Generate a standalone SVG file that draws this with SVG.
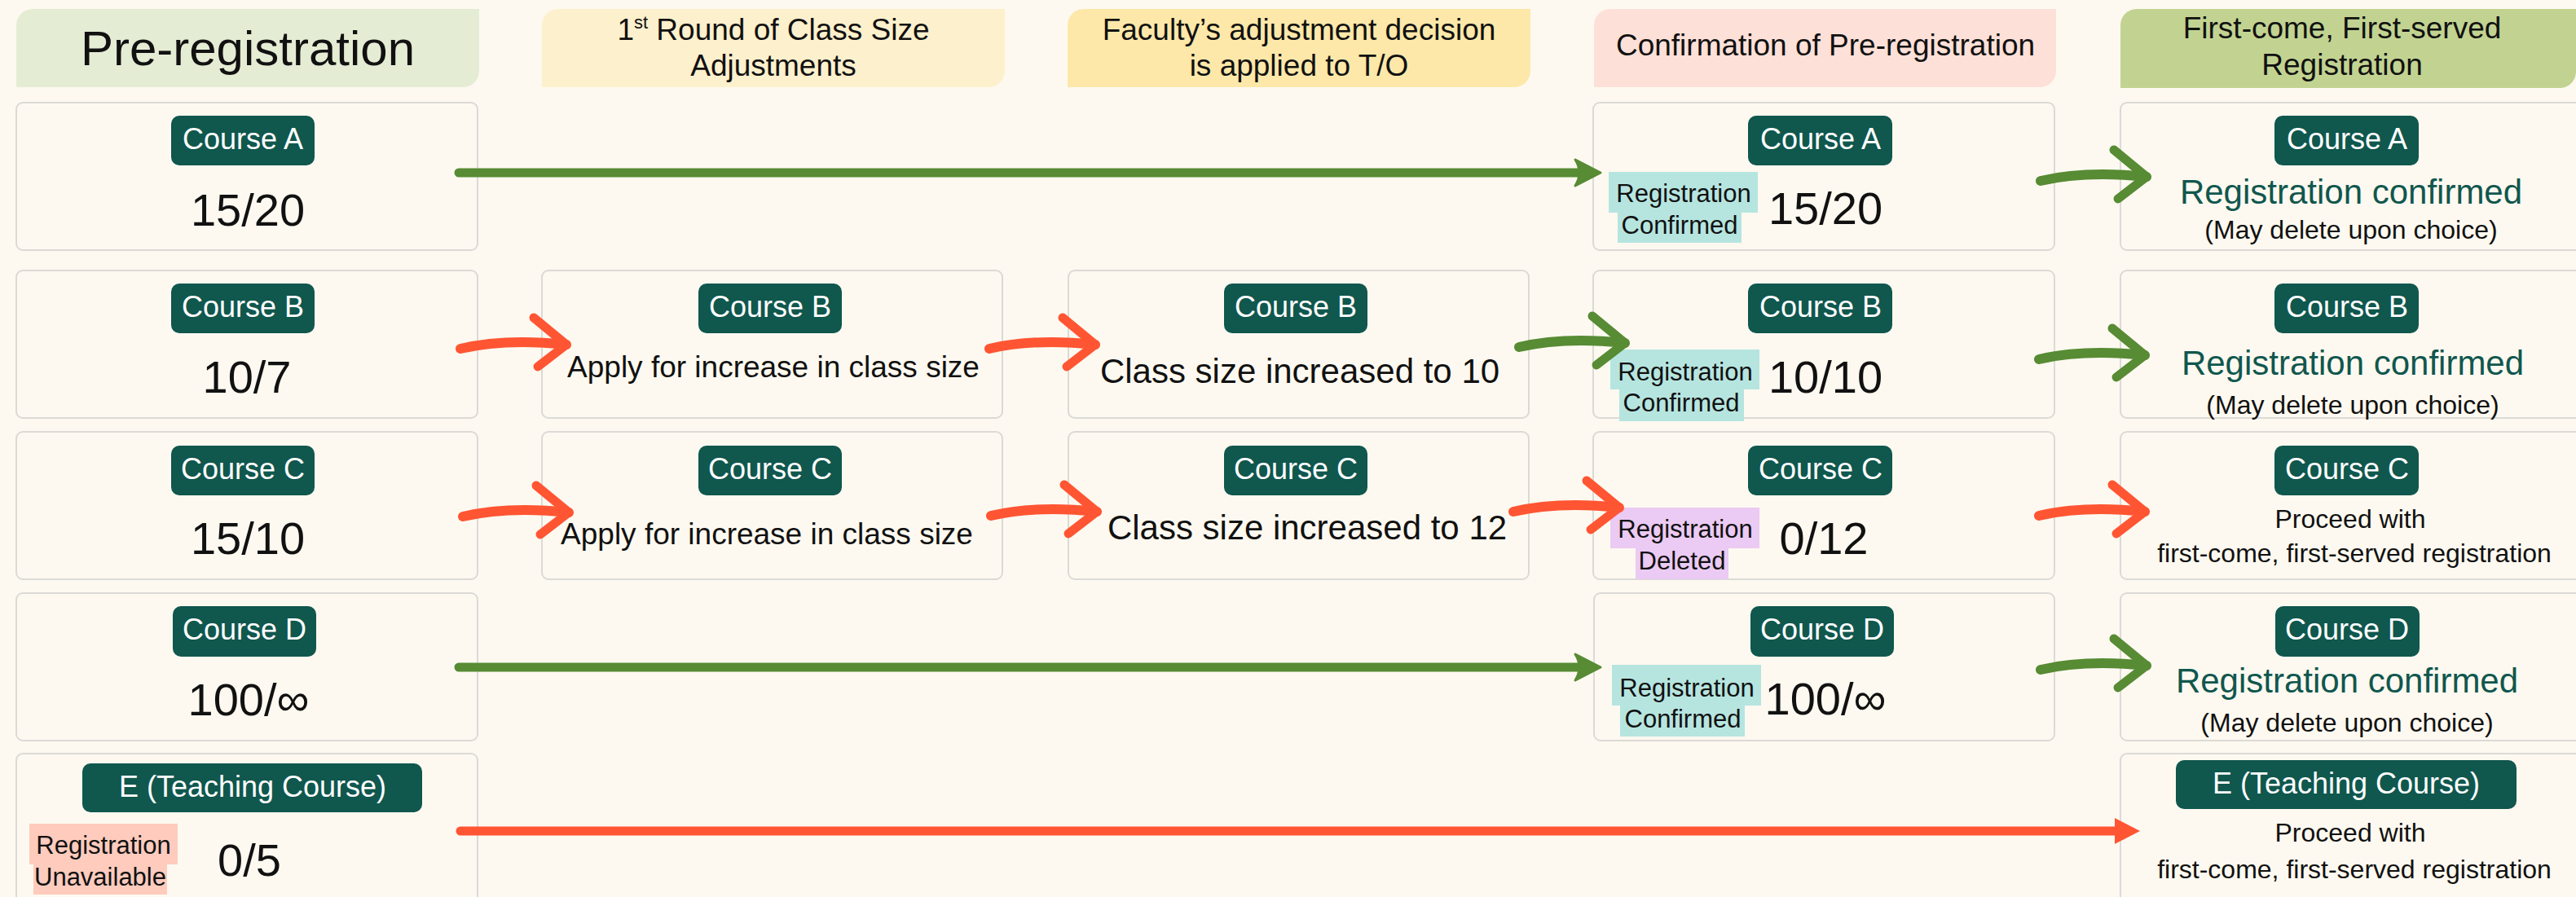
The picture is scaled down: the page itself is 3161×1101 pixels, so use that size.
<svg xmlns="http://www.w3.org/2000/svg" xmlns:xlink="http://www.w3.org/1999/xlink" width="3161" height="1101" viewBox="0 0 3161 1101">
<style>
text{font-family:"Liberation Sans",Arial,sans-serif;fill:#111;text-anchor:middle}
.box{fill:#fdf9f0;stroke:#dcdad6;stroke-width:2}
.pill{fill:#10574e}
.pt{font-size:36px;fill:#fff}
.hd{font-size:37px}
.hd1{font-size:60px}
.val{font-size:56px}
.mid{font-size:37px}
.big{font-size:42px}
.conf{font-size:42px;fill:#10574e}
.sm{font-size:32px}
.hl{font-size:31px}
.teal{fill:#b6e5e0}
.lav{fill:#ebcaf3}
.sal{fill:#fecbbd}
.shaft{fill:none;stroke-width:11;stroke-linecap:round}
</style>
<defs>
<g id="curve" fill="none">
<path d="M0,0 Q55,-13 130,-5" stroke-width="12" stroke-linecap="round"/>
<path d="M90,-38 L130,-5 L95,22" stroke-width="11" stroke-linecap="round" stroke-linejoin="round"/>
</g>
</defs>
<rect width="3161" height="1101" fill="#fdf9f0"/>

<g id="headers">
<g id="h-pre"><path d="M20,107 L20,31 A20,20 0 0 1 40,11 L588,11 L588,87 A20,20 0 0 1 568,107 Z" fill="#e5ecd4"/><text class="hd1" x="304" y="80">Pre-registration</text></g>
<g id="h-round1"><path d="M665,107 L665,31 A20,20 0 0 1 685,11 L1233,11 L1233,87 A20,20 0 0 1 1213,107 Z" fill="#fdf0cc"/><text class="hd" x="949" y="49">1<tspan font-size="22" dy="-14">st</tspan><tspan dy="14"> Round of Class Size</tspan></text><text class="hd" x="949" y="93">Adjustments</text></g>
<g id="h-faculty"><path d="M1310,107 L1310,31 A20,20 0 0 1 1330,11 L1878,11 L1878,87 A20,20 0 0 1 1858,107 Z" fill="#fde8a9"/><text class="hd" x="1594" y="49">Faculty’s adjustment decision</text><text class="hd" x="1594" y="93">is applied to T/O</text></g>
<g id="h-confirm"><path d="M1956,107 L1956,31 A20,20 0 0 1 1976,11 L2523,11 L2523,87 A20,20 0 0 1 2503,107 Z" fill="#fde0d7"/><text class="hd" x="2240" y="68">Confirmation of Pre-registration</text></g>
<g id="h-fcfs"><path d="M2602,108 L2602,31 A20,20 0 0 1 2622,11 L3161,11 L3161,88 A20,20 0 0 1 3141,108 Z" fill="#c2d391"/><text class="hd" x="2874" y="47">First-come, First-served</text><text class="hd" x="2874" y="92">Registration</text></g>
</g>

<!-- Column 1 -->
<g id="a1"><rect class="box" x="20" y="126" width="566" height="181" rx="8"/><rect class="pill" x="210" y="142" width="176" height="61" rx="10"/><text class="pt" x="298" y="183">Course A</text><text class="val" x="304" y="277">15/20</text></g>
<g id="b1"><rect class="box" x="20" y="332" width="566" height="181" rx="8"/><rect class="pill" x="210" y="348" width="176" height="61" rx="10"/><text class="pt" x="298" y="389">Course B</text><text class="val" x="303" y="482">10/7</text></g>
<g id="c1"><rect class="box" x="20" y="530" width="566" height="181" rx="8"/><rect class="pill" x="210" y="547" width="176" height="61" rx="10"/><text class="pt" x="298" y="588">Course C</text><text class="val" x="304" y="680">15/10</text></g>
<g id="d1"><rect class="box" x="20" y="728" width="566" height="181" rx="8"/><rect class="pill" x="212" y="744" width="176" height="62" rx="10"/><text class="pt" x="300" y="785">Course D</text><text class="val" x="305" y="878">100/∞</text></g>
<g id="e1"><rect class="box" x="20" y="925" width="566" height="190" rx="8"/><rect class="pill" x="101" y="937" width="417" height="60" rx="10"/><text class="pt" x="310" y="978">E (Teaching Course)</text>
<rect class="sal" x="36" y="1011" width="182" height="50"/><rect class="sal" x="41" y="1061" width="164" height="37"/>
<text class="hl" x="127" y="1048">Registration</text><text class="hl" x="123" y="1087">Unavailable</text><text class="val" x="306" y="1075">0/5</text></g>

<!-- Column 2 -->
<g id="b2"><rect class="box" x="665" y="332" width="565" height="181" rx="8"/><rect class="pill" x="857" y="348" width="176" height="61" rx="10"/><text class="pt" x="945" y="389">Course B</text><text class="mid" x="949" y="463">Apply for increase in class size</text></g>
<g id="c2"><rect class="box" x="665" y="530" width="565" height="181" rx="8"/><rect class="pill" x="857" y="547" width="176" height="61" rx="10"/><text class="pt" x="945" y="588">Course C</text><text class="mid" x="941" y="668">Apply for increase in class size</text></g>

<!-- Column 3 -->
<g id="b3"><rect class="box" x="1311" y="332" width="565" height="181" rx="8"/><rect class="pill" x="1502" y="348" width="176" height="61" rx="10"/><text class="pt" x="1590" y="389">Course B</text><text class="big" x="1595" y="470">Class size increased to 10</text></g>
<g id="c3"><rect class="box" x="1311" y="530" width="565" height="181" rx="8"/><rect class="pill" x="1502" y="547" width="176" height="61" rx="10"/><text class="pt" x="1590" y="588">Course C</text><text class="big" x="1604" y="662">Class size increased to 12</text></g>

<!-- Column 4 -->
<g id="a4"><rect class="box" x="1955" y="126" width="566" height="181" rx="8"/><rect class="pill" x="2145" y="142" width="177" height="61" rx="10"/><text class="pt" x="2234" y="183">Course A</text>
<rect class="teal" x="1974" y="211" width="183" height="50"/><rect class="teal" x="1985" y="261" width="152" height="37"/>
<text class="hl" x="2066" y="248">Registration</text><text class="hl" x="2061" y="287">Confirmed</text><text class="val" x="2240" y="275">15/20</text></g>
<g id="b4"><rect class="box" x="1955" y="332" width="566" height="181" rx="8"/><rect class="pill" x="2145" y="348" width="177" height="61" rx="10"/><text class="pt" x="2234" y="389">Course B</text>
<rect class="teal" x="1976" y="429" width="183" height="49"/><rect class="teal" x="1987" y="478" width="153" height="39"/>
<text class="hl" x="2068" y="467">Registration</text><text class="hl" x="2063" y="505">Confirmed</text><text class="val" x="2240" y="482">10/10</text></g>
<g id="c4"><rect class="box" x="1955" y="530" width="566" height="181" rx="8"/><rect class="pill" x="2145" y="547" width="177" height="61" rx="10"/><text class="pt" x="2234" y="588">Course C</text>
<rect class="lav" x="1976" y="623" width="183" height="50"/><rect class="lav" x="2007" y="673" width="114" height="38"/>
<text class="hl" x="2068" y="660">Registration</text><text class="hl" x="2064" y="699">Deleted</text><text class="val" x="2238" y="680">0/12</text></g>
<g id="d4"><rect class="box" x="1956" y="728" width="565" height="181" rx="8"/><rect class="pill" x="2148" y="744" width="176" height="62" rx="10"/><text class="pt" x="2236" y="785">Course D</text>
<rect class="teal" x="1978" y="816" width="183" height="50"/><rect class="teal" x="1988" y="866" width="153" height="38"/>
<text class="hl" x="2070" y="855">Registration</text><text class="hl" x="2065" y="893">Confirmed</text><text class="val" x="2240" y="877">100/∞</text></g>

<!-- Column 5 -->
<g id="a5"><rect class="box" x="2602" y="126" width="580" height="181" rx="8"/><rect class="pill" x="2791" y="142" width="177" height="61" rx="10"/><text class="pt" x="2880" y="183">Course A</text><text class="conf" x="2885" y="250">Registration confirmed</text><text class="sm" x="2885" y="293">(May delete upon choice)</text></g>
<g id="b5"><rect class="box" x="2602" y="332" width="580" height="181" rx="8"/><rect class="pill" x="2791" y="348" width="177" height="61" rx="10"/><text class="pt" x="2880" y="389">Course B</text><text class="conf" x="2887" y="460">Registration confirmed</text><text class="sm" x="2887" y="508">(May delete upon choice)</text></g>
<g id="c5"><rect class="box" x="2602" y="530" width="580" height="181" rx="8"/><rect class="pill" x="2791" y="547" width="177" height="61" rx="10"/><text class="pt" x="2880" y="588">Course C</text><text class="sm" x="2884" y="648">Proceed with</text><text class="sm" x="2889" y="690">first-come, first-served registration</text></g>
<g id="d5"><rect class="box" x="2602" y="728" width="580" height="181" rx="8"/><rect class="pill" x="2792" y="744" width="177" height="62" rx="10"/><text class="pt" x="2880" y="785">Course D</text><text class="conf" x="2880" y="850">Registration confirmed</text><text class="sm" x="2880" y="898">(May delete upon choice)</text></g>
<g id="e5"><rect class="box" x="2602" y="925" width="580" height="190" rx="8"/><rect class="pill" x="2670" y="933" width="418" height="60" rx="10"/><text class="pt" x="2879" y="974">E (Teaching Course)</text><text class="sm" x="2884" y="1033">Proceed with</text><text class="sm" x="2889" y="1078">first-come, first-served registration</text></g>

<g id="connectors">
<!-- straight arrows -->
<path class="shaft" d="M563,212 L1945,212" stroke="#578b34"/>
<path d="M1964,212 L1933,196 Q1943,212 1933,228 Z" fill="#578b34" stroke="#578b34" stroke-width="3" stroke-linejoin="round"/>
<path class="shaft" d="M563,819 L1945,819" stroke="#578b34"/>
<path d="M1964,819 L1933,803 Q1943,819 1933,835 Z" fill="#578b34" stroke="#578b34" stroke-width="3" stroke-linejoin="round"/>
<path class="shaft" d="M565,1020 L2600,1020" stroke="#ff5533"/>
<path d="M2626,1020 L2595,1004 L2595,1036 Z" fill="#ff5533"/>
<!-- curved brush arrows -->
<use xlink:href="#curve" x="565" y="428" stroke="#ff5533"/>
<use xlink:href="#curve" x="1214" y="428" stroke="#ff5533"/>
<use xlink:href="#curve" x="1864" y="426" stroke="#578b34"/>
<use xlink:href="#curve" x="568" y="634" stroke="#ff5533"/>
<use xlink:href="#curve" x="1216" y="633" stroke="#ff5533"/>
<use xlink:href="#curve" x="1857" y="628" stroke="#ff5533"/>
<use xlink:href="#curve" x="2504" y="222" stroke="#578b34"/>
<use xlink:href="#curve" x="2502" y="441" stroke="#578b34"/>
<use xlink:href="#curve" x="2502" y="633" stroke="#ff5533"/>
<use xlink:href="#curve" x="2504" y="822" stroke="#578b34"/>
</g>
</svg>
